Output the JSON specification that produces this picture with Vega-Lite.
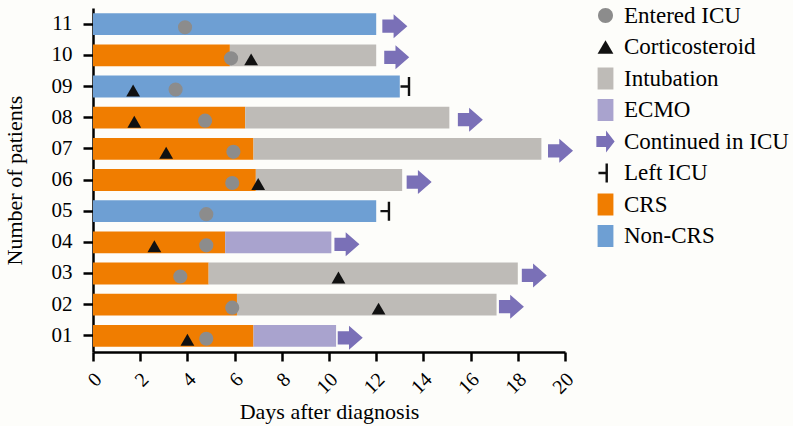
{
  "$schema": "https://vega.github.io/schema/vega-lite/v6.json",
  "autosize": {"type": "none"},
  "padding": {"left": 93, "top": 8, "right": 228, "bottom": 74},
  "width": 472,
  "height": 344,
  "background": "#FDFDFA",
  "config": {
    "view": {"stroke": null},
    "font": "Liberation Serif",
    "axis": {
      "domainColor": "#000000",
      "domainWidth": 2.5,
      "tickColor": "#000000",
      "tickWidth": 2.5,
      "labelColor": "#000000",
      "titleColor": "#000000",
      "labelFont": "Liberation Serif",
      "titleFont": "Liberation Serif",
      "titleFontWeight": "normal",
      "grid": false
    },
    "legend": {"labelFont": "Liberation Serif"}
  },
  "datasets": {
    "segments": [
      {"patient": "01", "start": 0, "end": 6.8, "phase": "CRS"},
      {"patient": "01", "start": 6.8, "end": 10.3, "phase": "ECMO"},
      {"patient": "02", "start": 0, "end": 6.1, "phase": "CRS"},
      {"patient": "02", "start": 6.1, "end": 17.1, "phase": "Intubation"},
      {"patient": "03", "start": 0, "end": 4.9, "phase": "CRS"},
      {"patient": "03", "start": 4.9, "end": 18.0, "phase": "Intubation"},
      {"patient": "04", "start": 0, "end": 5.6, "phase": "CRS"},
      {"patient": "04", "start": 5.6, "end": 10.1, "phase": "ECMO"},
      {"patient": "05", "start": 0, "end": 12.0, "phase": "Non-CRS"},
      {"patient": "06", "start": 0, "end": 6.9, "phase": "CRS"},
      {"patient": "06", "start": 6.9, "end": 13.1, "phase": "Intubation"},
      {"patient": "07", "start": 0, "end": 6.8, "phase": "CRS"},
      {"patient": "07", "start": 6.8, "end": 19.0, "phase": "Intubation"},
      {"patient": "08", "start": 0, "end": 6.45, "phase": "CRS"},
      {"patient": "08", "start": 6.45, "end": 15.1, "phase": "Intubation"},
      {"patient": "09", "start": 0, "end": 13.0, "phase": "Non-CRS"},
      {"patient": "10", "start": 0, "end": 5.8, "phase": "CRS"},
      {"patient": "10", "start": 5.8, "end": 12.0, "phase": "Intubation"},
      {"patient": "11", "start": 0, "end": 12.0, "phase": "Non-CRS"}
    ],
    "icu": [
      {"patient": "01", "day": 4.8},
      {"patient": "02", "day": 5.9},
      {"patient": "03", "day": 3.7},
      {"patient": "04", "day": 4.8},
      {"patient": "05", "day": 4.8},
      {"patient": "06", "day": 5.9},
      {"patient": "07", "day": 5.95},
      {"patient": "08", "day": 4.75},
      {"patient": "09", "day": 3.5},
      {"patient": "10", "day": 5.85},
      {"patient": "11", "day": 3.9}
    ],
    "steroid": [
      {"patient": "01", "day": 4.0},
      {"patient": "02", "day": 12.1},
      {"patient": "03", "day": 10.4},
      {"patient": "04", "day": 2.6},
      {"patient": "06", "day": 7.0},
      {"patient": "07", "day": 3.1},
      {"patient": "08", "day": 1.75},
      {"patient": "09", "day": 1.7},
      {"patient": "10", "day": 6.7}
    ],
    "continued": [
      {"patient": "01", "day": 10.9},
      {"patient": "02", "day": 17.73},
      {"patient": "03", "day": 18.7},
      {"patient": "04", "day": 10.76},
      {"patient": "06", "day": 13.82},
      {"patient": "07", "day": 19.81},
      {"patient": "08", "day": 15.99},
      {"patient": "10", "day": 12.87},
      {"patient": "11", "day": 12.79}
    ],
    "left": [
      {"patient": "05", "day": 12.54},
      {"patient": "09", "day": 13.39}
    ],
    "legendItems": [
      {"item": "Entered ICU"},
      {"item": "Corticosteroid"},
      {"item": "Intubation"},
      {"item": "ECMO"},
      {"item": "Continued in ICU"},
      {"item": "Left ICU"},
      {"item": "CRS"},
      {"item": "Non-CRS"}
    ]
  },
  "encoding": {
    "y": {
      "field": "patient",
      "type": "ordinal",
      "scale": {
        "domain": ["11", "10", "09", "08", "07", "06", "05", "04", "03", "02", "01"],
        "paddingInner": 0.3,
        "paddingOuter": 0.17
      },
      "axis": {
        "title": "Number of patients",
        "titleFontSize": 22,
        "titlePadding": 25,
        "labelFontSize": 21,
        "labelPadding": 11,
        "tickSize": 10
      }
    }
  },
  "layer": [
    {
      "data": {"name": "segments"},
      "mark": {"type": "bar"},
      "encoding": {
        "x": {
          "field": "start",
          "type": "quantitative",
          "scale": {"domain": [0, 20], "nice": false},
          "axis": {
            "title": "Days after diagnosis",
            "titleFontSize": 22,
            "titlePadding": 4,
            "values": [0, 2, 4, 6, 8, 10, 12, 14, 16, 18, 20],
            "labelAngle": 315,
            "labelAlign": "right",
            "labelBaseline": "middle",
            "labelFontSize": 20,
            "labelPadding": 15,
            "labelOffset": 5,
            "tickSize": 9
          }
        },
        "x2": {"field": "end"},
        "color": {
          "field": "phase",
          "type": "nominal",
          "scale": {
            "domain": ["CRS", "Non-CRS", "Intubation", "ECMO"],
            "range": ["#F07D00", "#6E9FD3", "#BEBBB7", "#A9A3CE"]
          },
          "legend": null
        }
      }
    },
    {
      "data": {"name": "icu"},
      "mark": {"type": "point", "shape": "circle", "filled": true, "size": 200, "color": "#8C8C8C", "opacity": 1, "yOffset": 3},
      "encoding": {"x": {"field": "day", "type": "quantitative"}}
    },
    {
      "data": {"name": "steroid"},
      "mark": {"type": "point", "shape": "triangle-up", "filled": true, "size": 190, "color": "#111111", "opacity": 1, "yOffset": 4},
      "encoding": {"x": {"field": "day", "type": "quantitative"}}
    },
    {
      "data": {"name": "continued"},
      "mark": {"type": "point", "shape": "M-1,-0.53L-0.1,-0.53L-0.1,-0.96L1,0L-0.1,0.96L-0.1,0.53L-1,0.53Z", "filled": true, "size": 625, "color": "#7A70B7", "opacity": 1, "yOffset": 2},
      "encoding": {"x": {"field": "day", "type": "quantitative"}}
    },
    {
      "data": {"name": "left"},
      "mark": {"type": "point", "shape": "M-0.85,-0.12L-0.12,-0.12L-0.12,-0.95L0.12,-0.95L0.12,0.95L-0.12,0.95L-0.12,0.12L-0.85,0.12Z", "filled": true, "size": 400, "color": "#111111", "opacity": 1},
      "encoding": {"x": {"field": "day", "type": "quantitative"}}
    },
    {
      "data": {"name": "legendItems"},
      "mark": {"type": "point", "filled": true, "opacity": 0},
      "encoding": {
        "y": {"value": 0},
        "x": {"value": 0},
        "fill": {
          "field": "item",
          "type": "nominal",
          "scale": {
            "domain": ["Entered ICU", "Corticosteroid", "Intubation", "ECMO", "Continued in ICU", "Left ICU", "CRS", "Non-CRS"],
            "range": ["#8C8C8C", "#111111", "#BEBBB7", "#A9A3CE", "#7A70B7", "#111111", "#F07D00", "#6E9FD3"]
          },
          "legend": {
            "title": null,
            "orient": "none",
            "legendX": 501,
            "legendY": -4,
            "symbolSize": 484,
            "symbolOpacity": 1,
            "symbolStrokeWidth": 0,
            "labelFontSize": 23,
            "labelColor": "#000000",
            "labelOffset": 7,
            "rowPadding": 7.5,
            "padding": 0,
            "labelLimit": 300
          }
        },
        "shape": {
          "field": "item",
          "type": "nominal",
          "scale": {
            "domain": ["Entered ICU", "Corticosteroid", "Intubation", "ECMO", "Continued in ICU", "Left ICU", "CRS", "Non-CRS"],
            "range": [
              "M0.68,0A0.68,0.68,0,1,1,-0.68,0A0.68,0.68,0,1,1,0.68,0Z",
              "M0,-0.62L0.72,0.62L-0.72,0.62Z",
              "M-0.72,-1L0.72,-1L0.72,1L-0.72,1Z",
              "M-0.72,-1L0.72,-1L0.72,1L-0.72,1Z",
              "M-0.83,-0.5L0.05,-0.5L0.05,-1L0.83,0L0.05,1L0.05,0.5L-0.83,0.5Z",
              "M-0.64,-0.11L0,-0.11L0,-0.86L0.22,-0.86L0.22,0.86L0,0.86L0,0.11L-0.64,0.11Z",
              "M-0.72,-1L0.72,-1L0.72,1L-0.72,1Z",
              "M-0.72,-1L0.72,-1L0.72,1L-0.72,1Z"
            ]
          },
          "legend": {
            "title": null,
            "orient": "none",
            "legendX": 501,
            "legendY": -4,
            "symbolSize": 484,
            "symbolOpacity": 1,
            "symbolStrokeWidth": 0,
            "labelFontSize": 23,
            "labelColor": "#000000",
            "labelOffset": 7,
            "rowPadding": 7.5,
            "padding": 0,
            "labelLimit": 300
          }
        }
      }
    }
  ]
}
